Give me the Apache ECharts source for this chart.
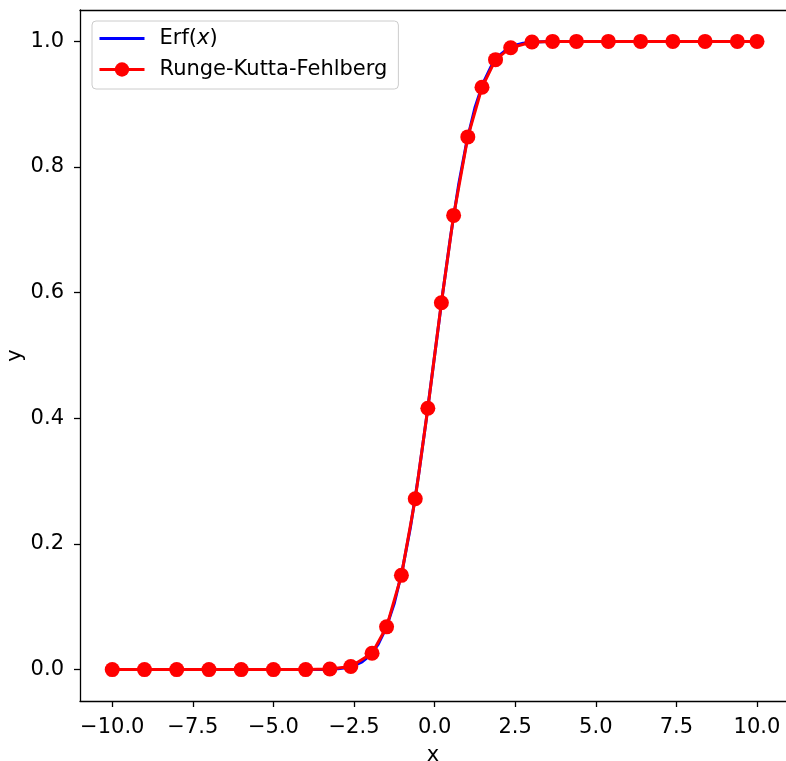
<!DOCTYPE html>
<html>
<head>
<meta charset="utf-8">
<script src="https://cdn.jsdelivr.net/npm/echarts@6/dist/echarts.min.js"></script>
<style>
html,body{margin:0;padding:0;background:#fff;}
#chart{width:786px;height:761px;}
</style>
</head>
<body>
<div id="chart"></div>
<script>
// Reference curve Erf(x)
const erfX = [-10, -4, -3.5, -3, -2.75, -2.5, -2.25, -2, -1.75, -1.5, -1.25, -1, -0.75, -0.5, -0.25, 0, 0.25, 0.5, 0.75, 1, 1.25, 1.5, 1.75, 2, 2.25, 2.5, 2.75, 3, 3.5, 4, 10];
const erfY = [0, 0, 0.0002, 0.0013, 0.003, 0.0062, 0.0122, 0.0228, 0.0401, 0.0668, 0.1056, 0.1587, 0.2266, 0.3085, 0.4013, 0.5, 0.5987, 0.6915, 0.7734, 0.8413, 0.8944, 0.9332, 0.9599, 0.9772, 0.9878, 0.9938, 0.997, 0.9987, 0.9998, 1, 1];
// Runge-Kutta-Fehlberg steps
const rkfX = [-10, -9, -8, -7, -6, -5, -4, -3.25, -2.6, -1.94, -1.49, -1.03, -0.6, -0.21, 0.21, 0.59, 1.03, 1.47, 1.89, 2.36, 3.02, 3.66, 4.4, 5.39, 6.39, 7.39, 8.39, 9.39, 10];
const rkfY = [0, 0, 0, 0, 0, 0, 0, 0.001, 0.005, 0.026, 0.068, 0.15, 0.272, 0.416, 0.584, 0.723, 0.848, 0.927, 0.971, 0.99, 0.999, 1, 1, 1, 1, 1, 1, 1, 1];
const xTicks = [-10, -7.5, -5, -2.5, 0, 2.5, 5, 7.5, 10];
const yTicks = [0, 0.2, 0.4, 0.6, 0.8, 1.0];

const FONT = 'DejaVu Sans';
const FS = 21;
const fmt = v => (Math.round(v * 10) / 10).toFixed(1).replace('-', '\u2212');

const chart = echarts.init(document.getElementById('chart'), null, {renderer: 'canvas'});
chart.setOption({
  animation: false,
  backgroundColor: '#ffffff',
  textStyle: {fontFamily: FONT, color: '#000'},
  grid: {left: 80, right: 0, top: 10, bottom: 60, containLabel: false, outerBoundsMode: 'none'},
  legend: {
    orient: 'vertical',
    left: 92, top: 21,
    backgroundColor: '#ffffff',
    borderColor: '#cccccc',
    borderWidth: 1,
    borderRadius: 4,
    padding: [7, 11, 9, 6],
    itemGap: 10,
    itemWidth: 45,
    itemHeight: 18,
    lineStyle: {width: 3},
    data: [
      {name: 'Erf(x)', itemStyle: {opacity: 0}},
      {name: 'Runge-Kutta-Fehlberg'}
    ],
    formatter: name => name === 'Erf(x)' ? 'Erf({i|x})' : name,
    textStyle: {
      fontFamily: FONT, fontSize: FS, color: '#000', padding: [0, 0, 0, 10],
      rich: {i: {fontFamily: FONT, fontSize: FS, fontStyle: 'italic', color: '#000'}}
    }
  },
  xAxis: [{
    type: 'value', min: -11, max: 10.9,
    position: 'bottom',
    name: 'x', nameLocation: 'middle', nameGap: 44, nameMoveOverlap: false,
    nameTextStyle: {fontFamily: FONT, fontSize: FS, color: '#000'},
    axisLine: {show: true, onZero: false, lineStyle: {color: '#000', width: 1.3}},
    axisTick: {show: true, length: 6, inside: false, customValues: xTicks, lineStyle: {color: '#000', width: 1.3}},
    axisLabel: {show: true, customValues: xTicks, formatter: fmt, margin: 16, fontFamily: FONT, fontSize: FS, color: '#000'},
    splitLine: {show: false}
  }, {
    type: 'value', min: -11, max: 10.9,
    position: 'top',
    axisLine: {show: true, onZero: false, lineStyle: {color: '#000', width: 1.3}},
    axisTick: {show: false}, axisLabel: {show: false}, splitLine: {show: false}
  }],
  yAxis: {
    type: 'value', min: -0.05, max: 1.05,
    name: 'y', nameLocation: 'middle', nameGap: 54, nameRotate: 90, nameMoveOverlap: false,
    nameTextStyle: {fontFamily: FONT, fontSize: FS, color: '#000'},
    axisLine: {show: true, onZero: false, lineStyle: {color: '#000', width: 1.3}},
    axisTick: {show: true, length: 6, customValues: yTicks, lineStyle: {color: '#000', width: 1.3}},
    axisLabel: {show: true, customValues: yTicks, formatter: fmt, margin: 16, fontFamily: FONT, fontSize: FS, color: '#000'},
    splitLine: {show: false}
  },
  series: [{
    name: 'Erf(x)',
    type: 'line',
    data: erfX.map((x, i) => [x, erfY[i]]),
    symbol: 'none',
    showSymbol: false,
    lineStyle: {color: '#0000ff', width: 3},
    itemStyle: {color: '#0000ff'},
    z: 2
  }, {
    name: 'Runge-Kutta-Fehlberg',
    type: 'line',
    data: rkfX.map((x, i) => [x, rkfY[i]]),
    symbol: 'circle',
    symbolSize: 15,
    showAllSymbol: true,
    lineStyle: {color: '#ff0000', width: 3},
    itemStyle: {color: '#ff0000'},
    z: 3
  }]
});
</script>
</body>
</html>
